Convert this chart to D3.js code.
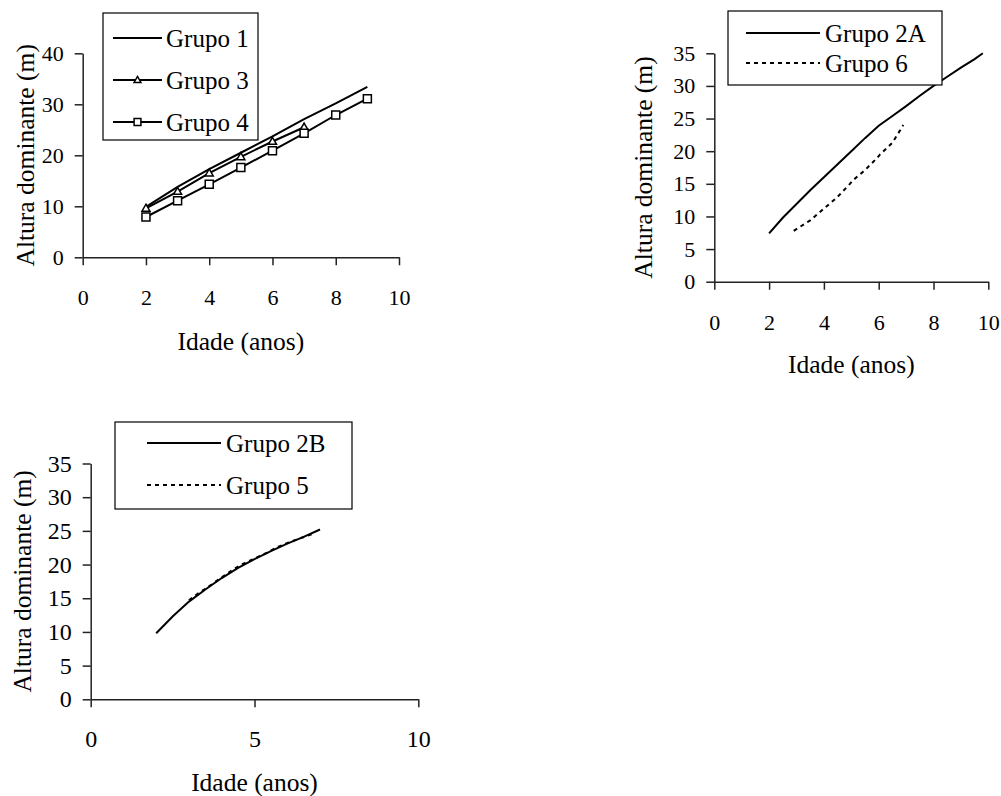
<!DOCTYPE html>
<html>
<head>
<meta charset="utf-8">
<script src="https://cdn.jsdelivr.net/npm/d3@7"></script>
</head>
<body style="margin:0;padding:0;background:#fff">
<svg id="chart" width="1001" height="796" style="display:block"></svg>
<script>
// ---------- DATA ----------
// Panel 1
const g1Age = [2, 3, 4, 5, 6, 7, 8, 9];
const g1Height = [9.9, 13.8, 17.3, 20.5, 23.7, 27.1, 30.2, 33.4];
const g3Age = [2, 3, 4, 5, 6, 7];
const g3Height = [9.6, 12.9, 16.5, 19.7, 22.7, 25.5];
const g4Age = [2, 3, 4, 5, 6, 7, 8, 9];
const g4Height = [7.9, 11.1, 14.3, 17.6, 20.9, 24.3, 27.9, 31.1];
// Panel 2
const g2aAge = [2, 2.5, 3, 3.5, 4, 4.5, 5, 5.5, 6, 6.5, 7, 7.5, 8, 8.5, 9, 9.5, 9.8];
const g2aHeight = [7.4, 9.8, 11.9, 14.0, 16.0, 18.0, 20.0, 22.0, 23.9, 25.4, 26.9, 28.5, 30.0, 31.4, 32.8, 34.1, 35.0];
const g6Age = [2.9, 3.5, 4.0, 4.5, 4.95, 5.05, 5.5, 5.95, 6.05, 6.5, 6.9];
const g6Height = [7.8, 9.4, 11.2, 13.0, 15.0, 15.5, 17.1, 19.0, 19.5, 21.3, 24.0];
// Panel 3
const g2bAge = [2, 2.5, 3, 3.5, 4, 4.5, 5, 5.5, 6, 6.5, 7];
const g2bHeight = [9.8, 12.3, 14.5, 16.3, 18.0, 19.5, 20.8, 22.0, 23.1, 24.1, 25.2];
const g5Age = [3.0, 3.3, 3.5, 4.0, 4.3, 4.6, 5.0, 5.4, 5.7, 6.0, 6.4, 6.8];
const g5Height = [14.7, 15.8, 16.4, 18.1, 19.1, 20.0, 20.9, 21.8, 22.6, 23.2, 23.9, 24.6];

const xTicks1 = [0, 2, 4, 6, 8, 10];
const yTicks1 = [0, 10, 20, 30, 40];
const xTicks2 = [0, 2, 4, 6, 8, 10];
const yTicks2 = [0, 5, 10, 15, 20, 25, 30, 35];
const xTicks3 = [0, 5, 10];
const yTicks3 = [0, 5, 10, 15, 20, 25, 30, 35];

const xTitle = "Idade (anos)";
const yTitle = "Altura dominante (m)";

// ---------- DRAW ----------
const FONT = "Liberation Serif";
const svg = d3.select("#chart");

function zip(xs, ys) { return xs.map((x, i) => ({x: x, y: ys[i]})); }

function markerPath(type, k) {
  k = k || 1;
  if (type === "triangle") {
    const h = 7 * k, w = 4 * k;
    return `M0,${-h * 0.6}L${w},${h * 0.4}L${-w},${h * 0.4}Z`;
  }
  const s = 4 * k;
  return `M${-s},${-s}H${s}V${s}H${-s}Z`;
}

function txt(sel, size) {
  return sel.style("font-family", FONT).style("font-size", size + "px").attr("fill", "#000");
}

function panel(cfg) {
  const g = svg.append("g");
  const x = d3.scaleLinear().domain(cfg.xDomain).range([cfg.left, cfg.right]);
  const y = d3.scaleLinear().domain(cfg.yDomain).range([cfg.bottom, cfg.top]);

  const xa = g.append("g").attr("transform", `translate(0,${cfg.bottom})`)
    .call(d3.axisBottom(x).tickValues(cfg.xTicks).tickSize(8).tickPadding(cfg.xPad).tickSizeOuter(0));
  const ya = g.append("g").attr("transform", `translate(${cfg.left},0)`)
    .call(d3.axisLeft(y).tickValues(cfg.yTicks).tickSize(8).tickPadding(cfg.yPad).tickSizeOuter(0));
  [xa, ya].forEach(a => {
    a.select(".domain").attr("stroke", "#222").attr("stroke-width", 1.5);
    a.selectAll(".tick line").attr("stroke", "#222").attr("stroke-width", 1.5);
    txt(a.selectAll(".tick text"), cfg.tickFont);
  });

  txt(g.append("text"), cfg.titleFont).attr("x", (cfg.left + cfg.right) / 2).attr("y", cfg.xTitleY)
    .attr("text-anchor", "middle").text(xTitle);
  txt(g.append("text"), cfg.titleFont)
    .attr("transform", `translate(${cfg.yTitleX},${(cfg.top + cfg.bottom) / 2}) rotate(-90)`)
    .attr("text-anchor", "middle").text(yTitle);

  const line = d3.line().x(d => x(d.x)).y(d => y(d.y));

  cfg.series.forEach(s => {
    const pts = zip(s.xs, s.ys);
    g.append("path").datum(pts).attr("d", line).attr("fill", "none")
      .attr("stroke", "#000").attr("stroke-width", 2)
      .attr("stroke-dasharray", s.dash || null);
    if (s.marker) {
      g.selectAll(null).data(pts).enter().append("path")
        .attr("transform", d => `translate(${x(d.x)},${y(d.y)})`)
        .attr("d", markerPath(s.marker))
        .attr("fill", "#fff").attr("stroke", "#000").attr("stroke-width", 1.5);
    }
  });

  const L = cfg.legend;
  g.append("rect").attr("x", L.x0).attr("y", L.y0).attr("width", L.x1 - L.x0).attr("height", L.y1 - L.y0)
    .attr("fill", "#fff").attr("stroke", "#000").attr("stroke-width", 1.2);
  cfg.series.forEach((s, i) => {
    const ly = L.rows[i];
    g.append("line").attr("x1", L.lx0).attr("x2", L.lx1).attr("y1", ly).attr("y2", ly)
      .attr("stroke", "#000").attr("stroke-width", 2).attr("stroke-dasharray", s.dash || null);
    if (s.marker) {
      g.append("path").attr("transform", `translate(${(L.lx0 + L.lx1) / 2},${ly})`)
        .attr("d", markerPath(s.marker, 0.85))
        .attr("fill", "#fff").attr("stroke", "#000").attr("stroke-width", 1.5);
    }
    txt(g.append("text"), L.font).attr("x", L.tx).attr("y", ly).attr("dy", "0.35em").text(s.name);
  });
}

panel({
  xDomain: [0, 10], yDomain: [0, 40],
  left: 82.7, right: 399, top: 53.3, bottom: 257.3,
  xTicks: xTicks1, yTicks: yTicks1, tickFont: 22, titleFont: 25.5,
  xPad: 24, yPad: 11, xTitleY: 350, yTitleX: 34,
  series: [
    {name: "Grupo 1", xs: g1Age, ys: g1Height},
    {name: "Grupo 3", xs: g3Age, ys: g3Height, marker: "triangle"},
    {name: "Grupo 4", xs: g4Age, ys: g4Height, marker: "square"}
  ],
  legend: {x0: 103, x1: 258, y0: 13, y1: 140, rows: [38, 80, 122], lx0: 113, lx1: 162, tx: 166, font: 25}
});

panel({
  xDomain: [0, 10], yDomain: [0, 35],
  left: 714.3, right: 988.3, top: 53.3, bottom: 281.7,
  xTicks: xTicks2, yTicks: yTicks2, tickFont: 22, titleFont: 25.5,
  xPad: 25, yPad: 11, xTitleY: 373, yTitleX: 652,
  series: [
    {name: "Grupo 2A", xs: g2aAge, ys: g2aHeight},
    {name: "Grupo 6", xs: g6Age, ys: g6Height, dash: "4,4"}
  ],
  legend: {x0: 728, x1: 942, y0: 11, y1: 85, rows: [33, 63], lx0: 746, lx1: 820, tx: 825, font: 25}
});

panel({
  xDomain: [0, 10], yDomain: [0, 35],
  left: 90.7, right: 418.3, top: 463.5, bottom: 699.3,
  xTicks: xTicks3, yTicks: yTicks3, tickFont: 24, titleFont: 25.5,
  xPad: 23, yPad: 11, xTitleY: 791, yTitleX: 31,
  series: [
    {name: "Grupo 2B", xs: g2bAge, ys: g2bHeight},
    {name: "Grupo 5", xs: g5Age, ys: g5Height, dash: "4,4"}
  ],
  legend: {x0: 115, x1: 352, y0: 422, y1: 509, rows: [443, 485], lx0: 147, lx1: 221, tx: 226, font: 25}
});
</script>
</body>
</html>
